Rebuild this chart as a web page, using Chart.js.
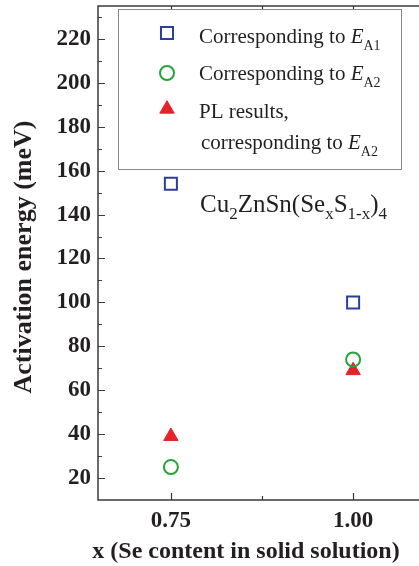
<!DOCTYPE html>
<html>
<head>
<meta charset="utf-8">
<script src="https://cdn.jsdelivr.net/npm/chart.js@4/dist/chart.umd.min.js"></script>
<style>
  html, body { margin: 0; padding: 0; background: #fff; overflow: hidden; }
  #wrap { position: absolute; left: 0; top: 0; width: 426px; height: 566px; }
</style>
</head>
<body>
<div id="wrap"><canvas id="c" width="426" height="566"></canvas></div>
<script>
// Se content x for each sample
const seContent = [0.75, 1.00];
// Activation energies (meV)
const energyEA1 = [154, 100];
const energyEA2 = [25, 74];
const energyPL  = [39, 69];
// Axis tick labels
const xTickValues = [0.75, 1.00];
const yTickValues = [20, 40, 60, 80, 100, 120, 140, 160, 180, 200, 220];

const seriesNames = ['Corresponding to ', 'Corresponding to ', 'PL results,'];

const SERIF = '"Liberation Serif", "Times New Roman", serif';
const INK = '#231f20';

function pts(ys) { return seContent.map((x, i) => ({ x: x, y: ys[i] })); }

// Axis frame with inward tick marks on all four sides
const framePlugin = {
  id: 'frame',
  afterDatasetsDraw(chart) {
    const { ctx, chartArea: a, scales } = chart;
    const xs = scales.x, ys = scales.y;
    ctx.save();
    ctx.strokeStyle = '#3a3a3a';
    ctx.lineWidth = 1.5;
    ctx.strokeRect(a.left, a.top, a.right - a.left, a.bottom - a.top);
    ctx.lineWidth = 1.2;
    const major = 7, minor = 4;
    ctx.beginPath();
    // y ticks: majors on labels, minors halfway
    const yStep = yTickValues[1] - yTickValues[0];
    const yVals = [];
    for (let v = yTickValues[0] - yStep / 2; v <= ys.max; v += yStep / 2) yVals.push(v);
    yVals.forEach(v => {
      if (v <= ys.min) return;
      const p = Math.round(ys.getPixelForValue(v)) + 0.5;
      const len = yTickValues.includes(v) ? major : minor;
      ctx.moveTo(a.left, p); ctx.lineTo(a.left + len, p);
      ctx.moveTo(a.right, p); ctx.lineTo(a.right - len, p);
    });
    // x ticks
    const xStep = xTickValues[1] - xTickValues[0];
    const xVals = [];
    for (let v = xTickValues[0] - xStep; v <= xs.max + 1e-9; v += xStep / 2) xVals.push(v);
    xVals.forEach(v => {
      if (v <= xs.min || v >= xs.max) return;
      const p = Math.round(xs.getPixelForValue(v)) + 0.5;
      const isMajor = xTickValues.some(t => Math.abs(t - v) < 1e-9);
      const len = isMajor ? major : minor;
      ctx.moveTo(p, a.bottom); ctx.lineTo(p, a.bottom - len);
      ctx.moveTo(p, a.top); ctx.lineTo(p, a.top + len);
    });
    ctx.stroke();

    // axis titles
    ctx.fillStyle = INK;
    ctx.font = 'bold 24px ' + SERIF;
    ctx.textAlign = 'center';
    ctx.textBaseline = 'middle';
    ctx.fillText('x (Se content in solid solution)', 246, 552);
    ctx.save();
    ctx.translate(31, 257);
    ctx.rotate(-Math.PI / 2);
    ctx.font = 'bold 26px ' + SERIF;
    ctx.textBaseline = 'alphabetic';
    ctx.fillText('Activation energy (meV)', 0, 0);
    ctx.restore();
    ctx.restore();
  }
};

// text with a subscript run; parts: [text, isSub, italic]
function richText(ctx, x, y, parts, size, subSize, subDrop) {
  ctx.textAlign = 'left';
  ctx.textBaseline = 'alphabetic';
  parts.forEach(([t, sub, it]) => {
    ctx.font = (it ? 'italic ' : '') + (sub ? subSize : size) + 'px ' + SERIF;
    ctx.fillText(t, x, sub ? y + subDrop : y);
    x += ctx.measureText(t).width;
  });
  return x;
}

// Boxed legend and compound label
const legendPlugin = {
  id: 'boxLegend',
  afterDraw(chart) {
    const { ctx } = chart;
    ctx.save();
    ctx.fillStyle = '#fff';
    ctx.fillRect(118.5, 9.5, 283, 160);
    ctx.strokeStyle = '#8a8a8a';
    ctx.lineWidth = 1;
    ctx.strokeRect(118.5, 9.5, 283, 160);

    const rows = [
      { ds: 0, my: 33 },
      { ds: 1, my: 73 },
      { ds: 2, my: 109 }
    ];
    rows.forEach(r => {
      const ds = chart.data.datasets[r.ds];
      ctx.fillStyle = ds.backgroundColor;
      ctx.strokeStyle = ds.borderColor;
      ctx.lineWidth = ds.borderWidth;
      Chart.helpers.drawPoint(ctx, {
        pointStyle: ds.pointStyle, radius: ds.pointRadius, rotation: 0, borderWidth: ds.borderWidth
      }, 167, r.my);
    });

    ctx.fillStyle = INK;
    richText(ctx, 199, 43, [[seriesNames[0], false, false], ['E', false, true], ['A1', true, false]], 21, 14, 7);
    richText(ctx, 199, 80, [[seriesNames[1], false, false], ['E', false, true], ['A2', true, false]], 21, 14, 7);
    richText(ctx, 199, 118, [[seriesNames[2], false, false]], 21, 14, 7);
    richText(ctx, 201, 149, [['corresponding to ', false, false], ['E', false, true], ['A2', true, false]], 21, 14, 7);

    // compound formula
    richText(ctx, 200, 212, [
      ['Cu', false], ['2', true], ['ZnSn(Se', false], ['x', true],
      ['S', false], ['1-x', true], [')', false], ['4', true]
    ], 25, 17, 7);
    ctx.restore();
  }
};

function noPad(s) {
  s.paddingTop = 0; s.paddingBottom = 0; s.paddingLeft = 0; s.paddingRight = 0;
}

new Chart(document.getElementById('c'), {
  type: 'scatter',
  data: {
    datasets: [
      {
        label: 'EA1', data: pts(energyEA1), pointStyle: 'rect', pointRadius: 8.5,
        borderColor: '#2c3f9c', backgroundColor: 'rgba(0,0,0,0)', borderWidth: 2
      },
      {
        label: 'EA2', data: pts(energyEA2), pointStyle: 'circle', pointRadius: 7,
        borderColor: '#24a43c', backgroundColor: 'rgba(0,0,0,0)', borderWidth: 2
      },
      {
        label: 'PL', data: pts(energyPL), pointStyle: 'triangle', pointRadius: 8.3,
        borderColor: '#e6212a', backgroundColor: '#e6212a', borderWidth: 1
      }
    ]
  },
  options: {
    responsive: false,
    animation: false,
    devicePixelRatio: 1,
    layout: { autoPadding: false, padding: { top: 6, left: 0, right: 0, bottom: 0 } },
    plugins: { legend: { display: false }, tooltip: { enabled: false } },
    scales: {
      x: {
        type: 'linear', min: 0.65, max: 1.1,
        grid: { display: false, drawTicks: false }, border: { display: false },
        afterBuildTicks(s) { s.ticks = xTickValues.map(v => ({ value: v })); },
        afterFit(s) { s.height = 66; noPad(s); },
        ticks: {
          padding: 7, color: INK,
          font: { family: SERIF, size: 23, weight: 'bold' },
          callback: v => v.toFixed(2)
        }
      },
      y: {
        type: 'linear', min: 10, max: 235,
        grid: { display: false, drawTicks: false }, border: { display: false },
        afterBuildTicks(s) { s.ticks = yTickValues.map(v => ({ value: v })); },
        afterFit(s) { s.width = 98; noPad(s); },
        ticks: {
          padding: 7, color: INK,
          font: { family: SERIF, size: 23, weight: 'bold' }
        }
      }
    }
  },
  plugins: [framePlugin, legendPlugin]
});
</script>
</body>
</html>
